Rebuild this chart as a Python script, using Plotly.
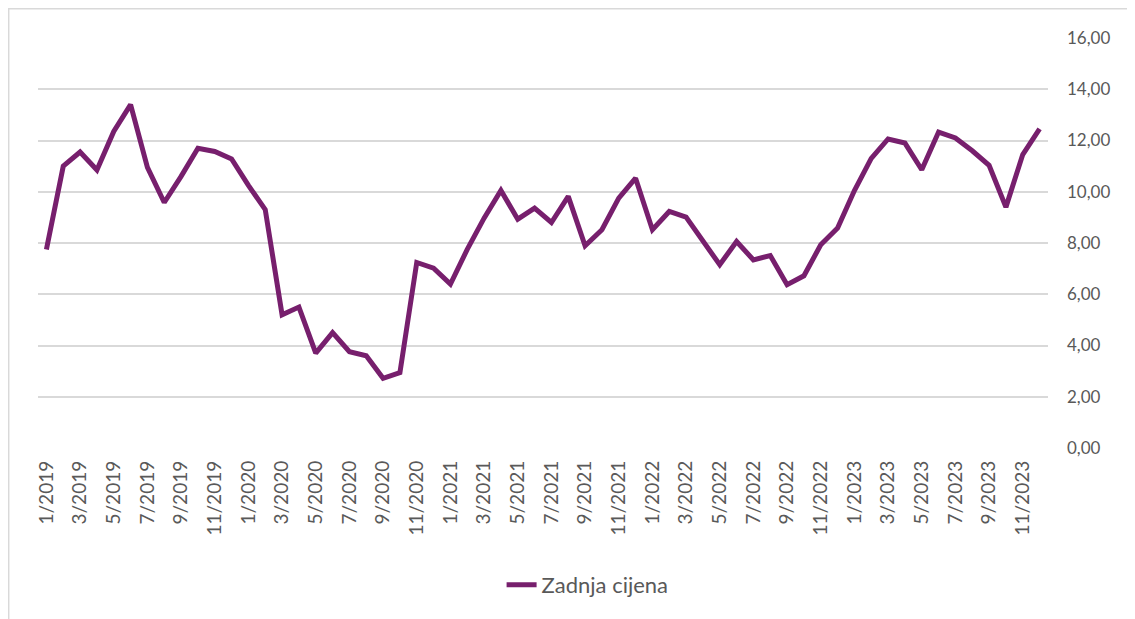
import plotly.graph_objects as go

# monthly data, 1/2019 - 12/2023
months = [f"{m}/{y}" for y in range(2019, 2024) for m in range(1, 13)]
zadnja_cijena = [
    7.75, 11.0, 11.55, 10.85, 12.35, 13.4, 10.95, 9.58, 10.6, 11.7, 11.57, 11.28,
    10.25, 9.3, 5.2, 5.5, 3.7, 4.5, 3.76, 3.6, 2.72, 2.94, 7.24, 7.02,
    6.4, 7.75, 8.97, 10.05, 8.93, 9.36, 8.8, 9.82, 7.89, 8.52, 9.75, 10.53,
    8.52, 9.23, 9.01, 8.1, 7.15, 8.06, 7.34, 7.51, 6.37, 6.72, 7.93, 8.58,
    10.05, 11.3, 12.06, 11.9, 10.86, 12.33, 12.1, 11.6, 11.03, 9.4, 11.45, 12.45,
]
y_ticks = [0, 2, 4, 6, 8, 10, 12, 14, 16]
y_labels = ["0,00", "2,00", "4,00", "6,00", "8,00", "10,00", "12,00", "14,00", "16,00"]
x_ticks = months[::2]

font = "Lato, 'Open Sans', sans-serif"
grey = "#595959"

fig = go.Figure()
fig.add_trace(go.Scatter(
    x=months, y=zadnja_cijena, mode="lines", name="Zadnja cijena",
    line=dict(color="#771F6D", width=5),
))

# page has an 8px body margin, so margins are 8px smaller than the target
fig.update_layout(
    width=1135, height=619,
    margin=dict(l=30, r=95, t=30, b=179),
    paper_bgcolor="white", plot_bgcolor="white",
    font=dict(family=font, color=grey),
    showlegend=True,
    legend=dict(orientation="h", x=0.459, xanchor="left", y=-0.334, yanchor="middle",
                font=dict(size=22, color=grey)),
    xaxis=dict(type="category", range=[-0.5, 59.5], tickmode="array",
               tickvals=x_ticks, ticktext=x_ticks, tickangle=-90,
               tickfont=dict(size=19, color=grey), showgrid=False,
               showline=False, ticks="", ticklabelstandoff=8),
    yaxis=dict(side="right", range=[0, 16], tickmode="array", tickvals=y_ticks,
               ticktext=y_labels, tickfont=dict(size=17, color=grey),
               gridcolor="#D9D9D9", gridwidth=1.5, zeroline=False,
               showline=False, ticklabelstandoff=18),
    shapes=[dict(type="rect", xref="paper", yref="paper",
                 x0=-0.029, x1=1.2, y0=-0.6, y1=1.0713,
                 line=dict(color="#D9D9D9", width=1.5), layer="below")],
)

fig.write_html("out.html")
